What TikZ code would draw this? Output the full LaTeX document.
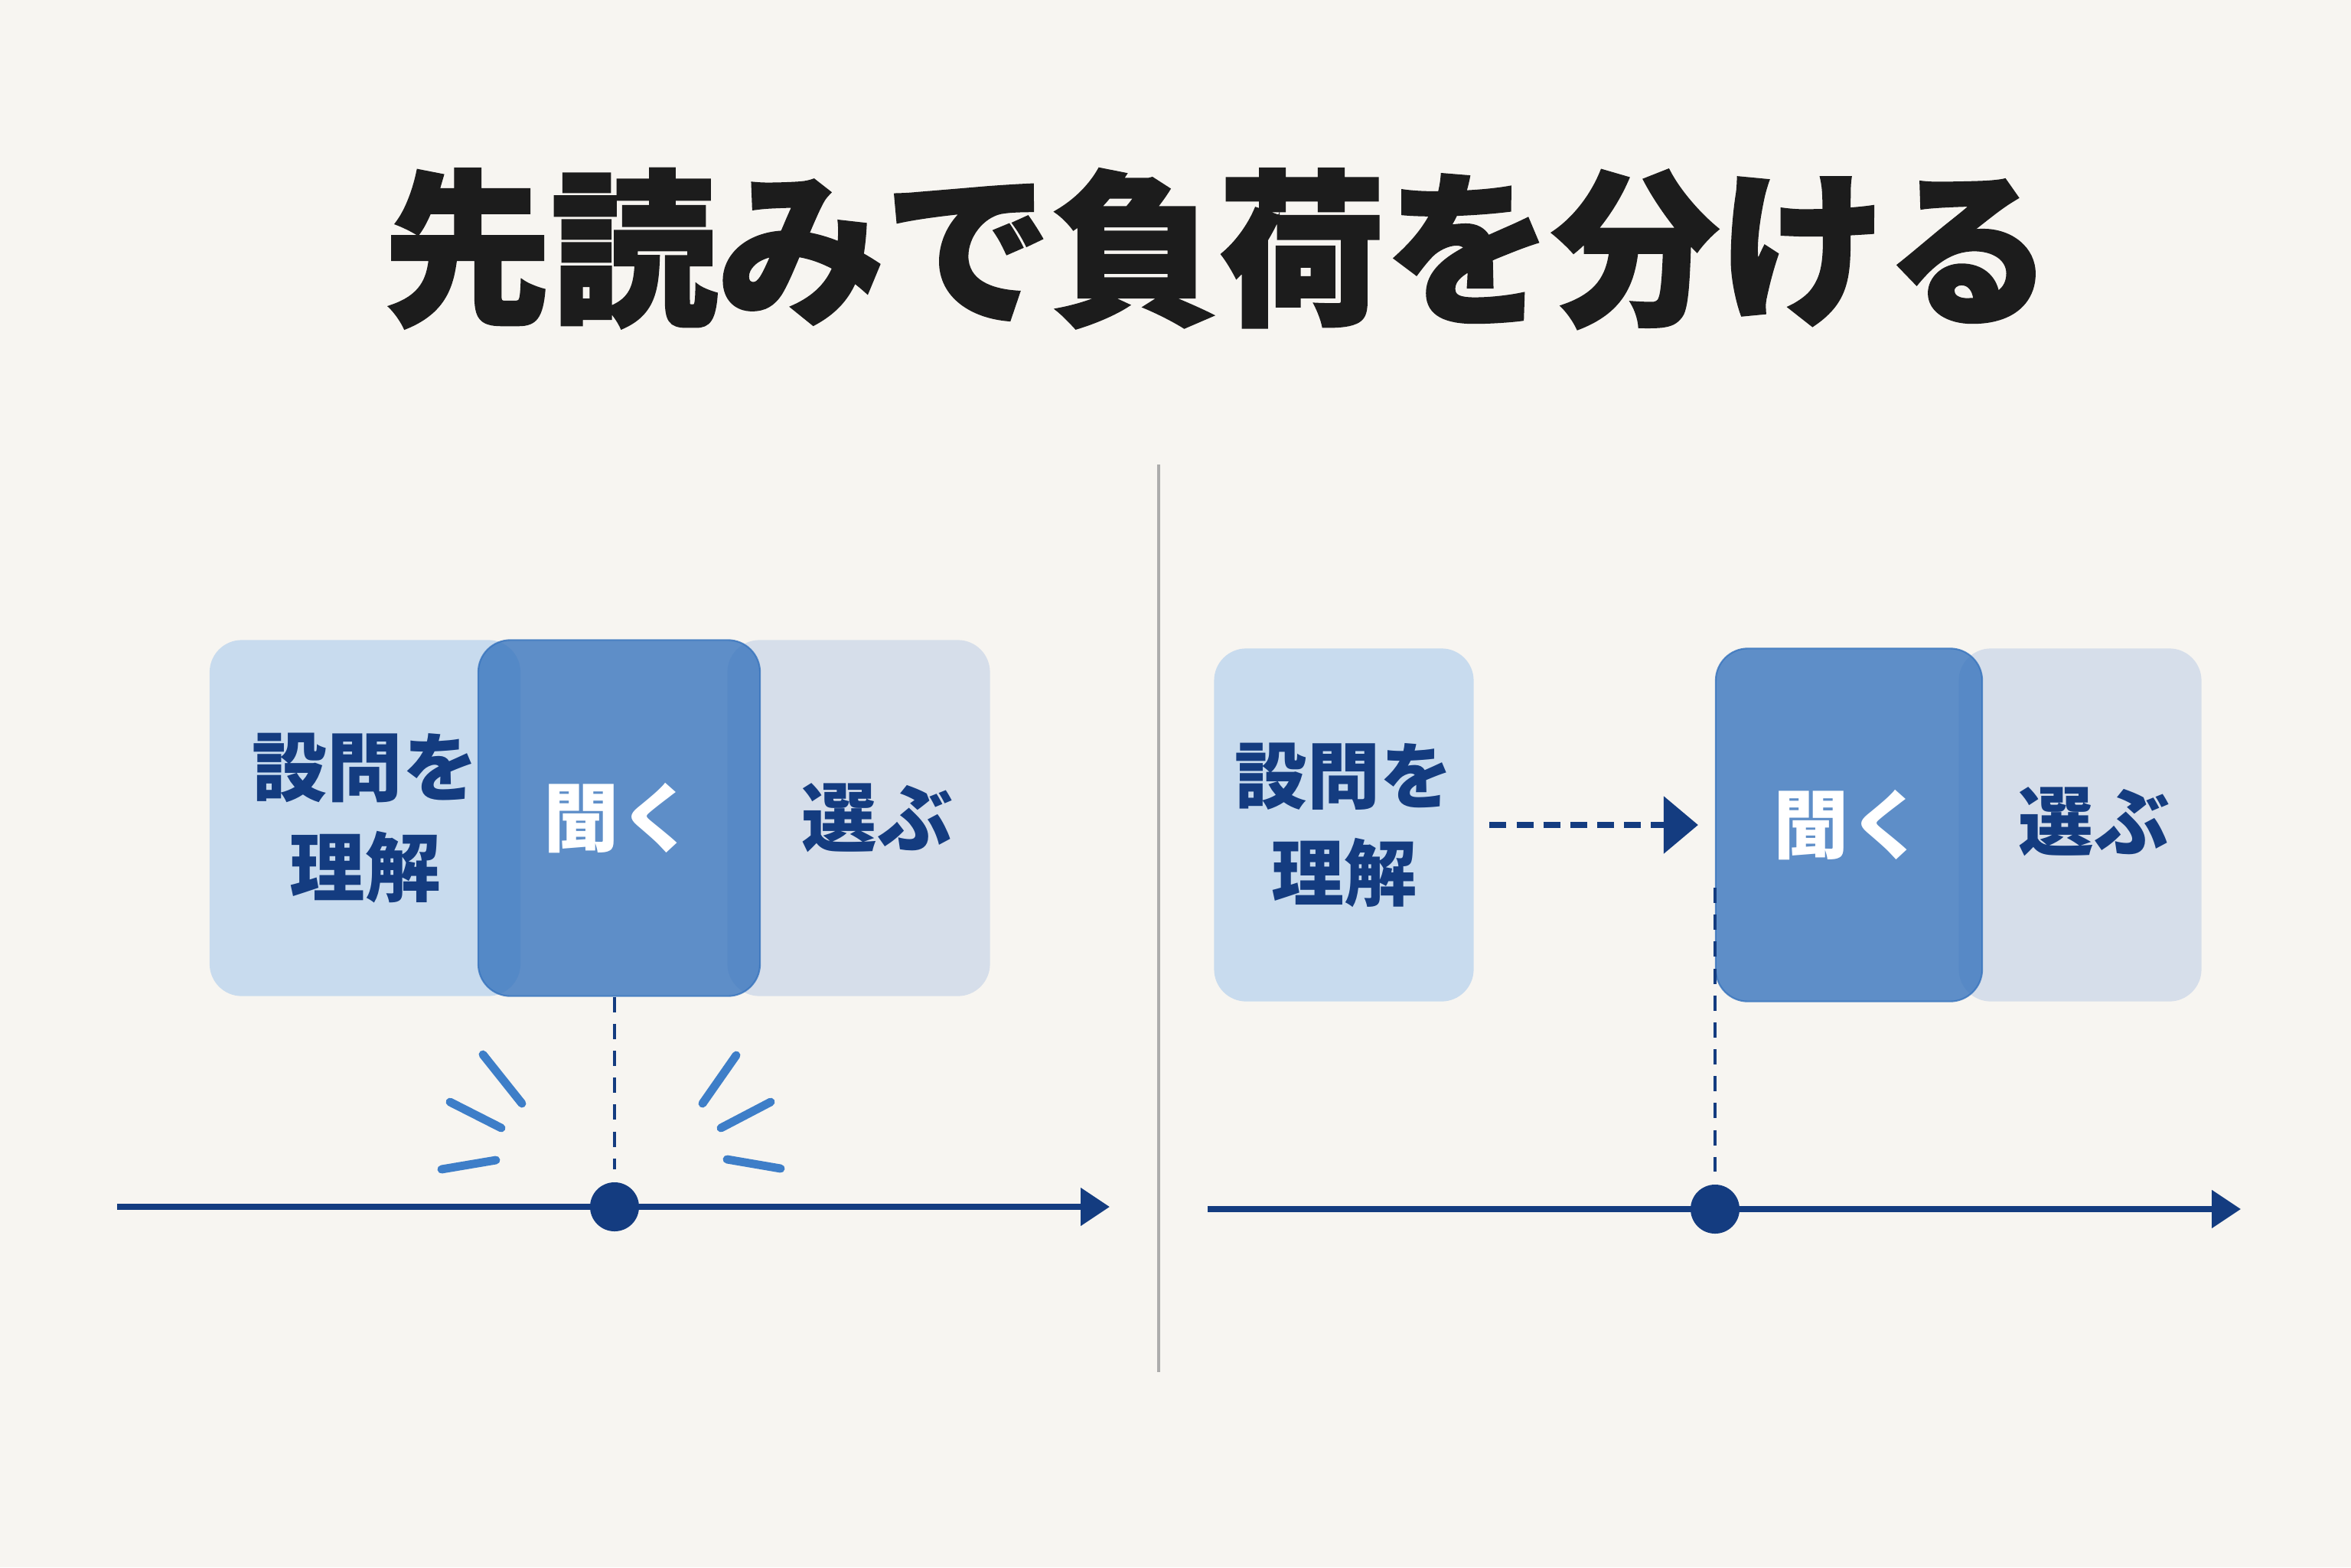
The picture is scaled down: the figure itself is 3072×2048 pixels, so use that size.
\documentclass[tikz,border=0pt]{standalone}
\usepackage{fontspec}
\usepackage{xcolor}
\usepackage{tikz}
\usetikzlibrary{arrows.meta,calc}
\newfontfamily\cjk{Noto Sans CJK JP}
\newfontfamily\cjktitle{Noto Sans CJK JP}[BoldFeatures={FakeBold=1.6}]
\definecolor{paper-bg}{RGB}{247,245,241}
\definecolor{ink-navy}{RGB}{20,60,128}
\definecolor{read-blue}{RGB}{200,219,238}
\definecolor{listen-blue}{RGB}{54,115,189}
\definecolor{pick-gray}{RGB}{214,222,234}
\definecolor{burst-blue}{RGB}{62,126,200}
\definecolor{title-black}{RGB}{28,28,28}
\definecolor{divider-gray}{RGB}{172,172,172}

\tikzset{
    stepbox/.style={rectangle, rounded corners=0.42cm, inner sep=0pt, align=center,
        font=\cjk\bfseries\fontsize{28}{37}\selectfont, text=ink-navy},
    readbox/.style={stepbox, fill=read-blue},
    listenbox/.style={stepbox, fill=listen-blue, fill opacity=0.79, draw=listen-blue,
        draw opacity=0.79, line width=0.6pt, text opacity=1, text=white},
    pickbox/.style={stepbox, fill=pick-gray},
    steplabel/.style={font=\cjk\bfseries\fontsize{28}{37}\selectfont, text=ink-navy},
    timeline/.style={draw=ink-navy, line width=2.2pt, -{Triangle[length=10.8pt,width=13.7pt]}},
    nowdot/.style={circle, fill=ink-navy, minimum size=0.64cm, inner sep=0pt},
    dropline/.style={draw=ink-navy, line width=1.4pt, dash pattern=on 5.7pt off 4.3pt},
    leadarrow/.style={draw=ink-navy, line width=2pt, dash pattern=on 6.3pt off 3.7pt,
        -{Triangle[length=12.8pt,width=21pt]}},
    burst/.style={draw=burst-blue, line width=3.1pt, line cap=round},
}

\begin{document}
\begin{tikzpicture}[x=0.01cm, y=-0.01cm]
    \fill[paper-bg] (0,0) rectangle (3072,2048);
    \useasboundingbox (0,0) rectangle (3072,2048);

    \node[font=\cjktitle\bfseries\fontsize{62}{62}\selectfont, text=title-black] (title) at (1592,325) {先読みで負荷を分ける};

    % left: everything at once
    \node[readbox, minimum width=4.06cm, minimum height=4.65cm] (read1) at (477,1069) {設問を\\理解};
    \node[pickbox, minimum width=3.43cm, minimum height=4.65cm] (pick1) at (1122,1069) {};
    \node[steplabel] (pick1-text) at ($(pick1.center)+(24,0)$) {選ぶ};
    \node[listenbox, minimum width=3.68cm, minimum height=4.65cm] (listen1) at (809,1069) {聞く};

    \node[nowdot] (now1) at (803,1577) {};
    \coordinate (t1-start) at (153,1577);
    \coordinate (t1-end) at (1450,1577);
    \draw[timeline] (t1-start) -- (t1-end);
    \draw[dropline, shorten >=0.16cm] (listen1.south -| now1) -- (now1.north);

    \foreach \ax/\ay/\bx/\by in {-172/-199/-121/-135, -215/-137/-148/-103, -226/-49/-155/-61,
                                 159/-198/115/-135, 204/-137/139/-103, 147/-62/217/-50}
        \draw[burst] ($(now1)+(\ax,\ay)$) -- ($(now1)+(\bx,\by)$);

    \draw[draw=divider-gray, line width=1.1pt] (1514,607) -- (1514,1793);

    % right: read ahead first
    \node[readbox, minimum width=3.39cm, minimum height=4.61cm, font=\cjk\bfseries\fontsize{27}{36}\selectfont] (read2) at (1756,1078) {設問を\\理解};
    \node[pickbox, minimum width=3.17cm, minimum height=4.61cm] (pick2) at (2718,1078) {};
    \node[steplabel] (pick2-text) at ($(pick2.center)+(18,-4)$) {選ぶ};
    \node[listenbox, minimum width=3.48cm, minimum height=4.61cm] (listen2) at (2416,1078) {聞く};

    \draw[leadarrow, shorten <=0.2cm, shorten >=0.22cm] (read2.east) -- (listen2.west);

    \node[nowdot] (now2) at (2241,1580) {};
    \coordinate (t2-start) at (1578,1580);
    \coordinate (t2-end) at (2928,1580);
    \coordinate (lead2) at (2241,1160);
    \draw[timeline] (t2-start) -- (t2-end);
    \draw[dropline, shorten >=0.16cm] (lead2) -- (now2.north);
\end{tikzpicture}
\end{document}
